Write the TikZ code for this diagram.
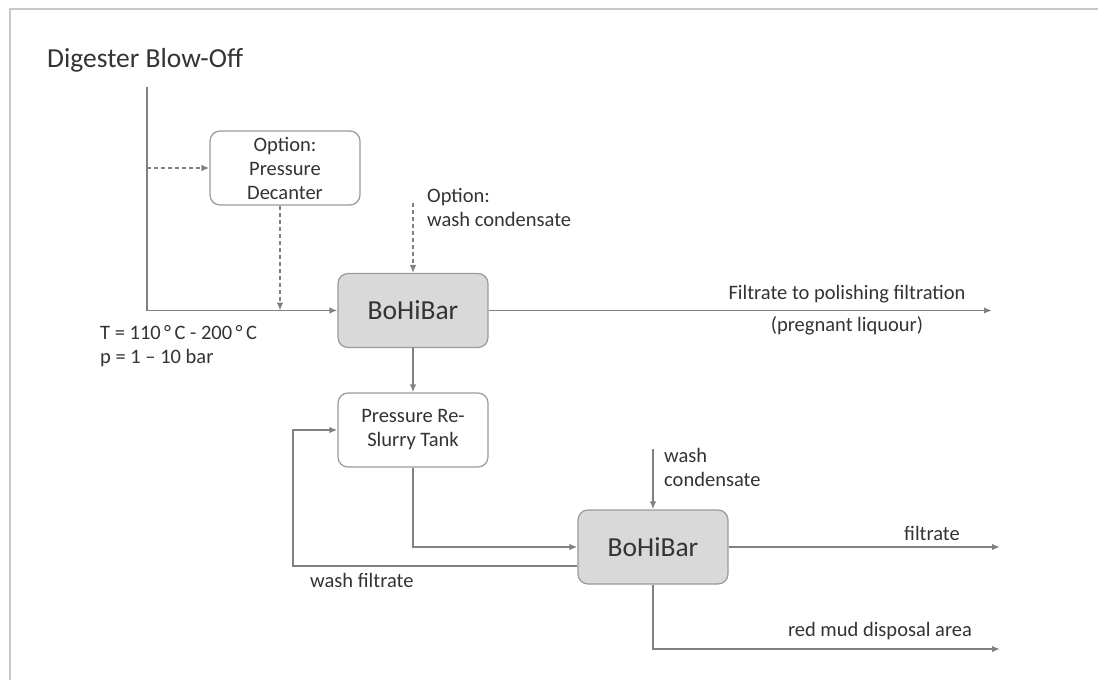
\documentclass[tikz,border=0pt]{standalone}
\usepackage{fontspec}
\setmainfont{Carlito}
\usetikzlibrary{arrows.meta}

\definecolor{linegray}{HTML}{808080}
\definecolor{boxgray}{HTML}{9A9A9A}
\definecolor{filtgray}{HTML}{D9D9D9}
\definecolor{textgray}{HTML}{333333}
\definecolor{framegray}{HTML}{C8C8C8}

\tikzset{
  unit/.style={draw=boxgray, line width=1.2pt, rounded corners=10pt,
    minimum width=150pt, minimum height=74pt, inner sep=0pt,
    align=center, text=textgray},
  filter/.style={unit, fill=filtgray, font=\fontsize{27.5}{33}\selectfont},
  vessel/.style={unit, fill=white, font=\fontsize{20.5}{24}\selectfont},
  flow/.style={draw=linegray, line width=1.7pt, -{Latex[length=8pt,width=6.5pt]}},
  optflow/.style={flow, line width=1.2pt, dash pattern=on 4pt off 3pt},
  lbl/.style={text=textgray, inner sep=0pt, font=\fontsize{20.5}{24}\selectfont}
}

\begin{document}
\begin{tikzpicture}[x=1pt,y=-1pt]
  \useasboundingbox (0,0) rectangle (1098,680);
  % frame
  \draw[framegray, line width=1.5pt] (10,680) -- (10,9) -- (1098,9);

  % units
  \node[vessel] (decanter) at (285,168) {Option:\\Pressure\\Decanter};
  \node[filter] (bohibarA) at (413,310.5) {BoHiBar};
  \node[vessel] (tank) at (413,430) {Pressure Re-\\Slurry Tank};
  \node[filter] (bohibarB) at (653,547) {BoHiBar};

  % texts
  \node[lbl, anchor=west, font=\fontsize{27.5}{33}\selectfont] (blowoff) at (47,60) {Digester Blow-Off};
  \node[lbl, anchor=west, align=left] (optwash) at (427,207) {Option:\\wash condensate};
  \node[lbl, anchor=west, align=left] (cond) at (100,346) {T = 110\,°\,C - 200\,°\,C\\p = 1 – 10 bar};
  \node[lbl] (polish) at (847,294) {Filtrate to polishing filtration};
  \node[lbl] (pregnant) at (847,326) {(pregnant liquour)};
  \node[lbl, anchor=west, align=left] (washB) at (664,467) {wash\\condensate};
  \node[lbl] (filtrate) at (932,533) {filtrate};
  \node[lbl] (redmud) at (880,631) {red mud disposal area};
  \node[lbl, anchor=west] (washret) at (310,580) {wash filtrate};

  % free ends
  \coordinate (feed) at (147,87);
  \coordinate (optin) at (413,203);
  \coordinate (outA) at (992,310.5);
  \coordinate (washin) at (653,449);
  \coordinate (outB) at (1000,547);
  \coordinate (mud) at (1000,649);
  \coordinate (loop) at (293,566);

  % flows
  \draw[flow] (feed) |- (bohibarA.west);
  \draw[optflow] (feed |- decanter.west) -- (decanter.west);
  \draw[optflow] ([xshift=-5pt]decanter.south) -- ([xshift=-5pt]decanter.south |- bohibarA.west);
  \draw[optflow] (optin) -- (bohibarA.north);
  \draw[flow] (bohibarA.east) -- (outA);
  \draw[flow] (bohibarA.south) -- (tank.north);
  \draw[flow] (tank.south) |- (bohibarB.west);
  \draw[flow] (loop -| bohibarB.west) -- (loop) |- (tank.west);
  \draw[flow] (washin) -- (bohibarB.north);
  \draw[flow] (bohibarB.east) -- (outB);
  \draw[flow] (bohibarB.south) |- (mud);
\end{tikzpicture}
\end{document}
